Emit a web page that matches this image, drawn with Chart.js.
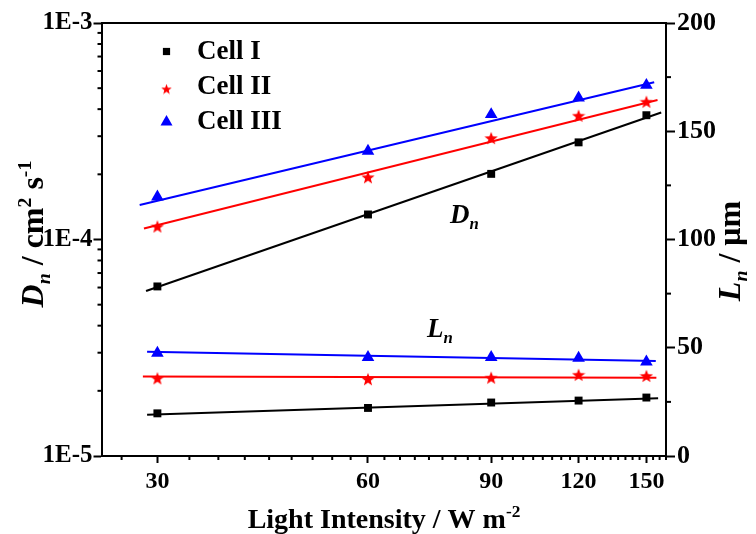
<!DOCTYPE html>
<html>
<head>
<meta charset="utf-8">
<script src="https://cdn.jsdelivr.net/npm/chart.js@4.4.1/dist/chart.umd.min.js"></script>
<style>
  html, body { margin: 0; padding: 0; background: #fff; }
  #c { display: block; }
</style>
</head>
<body>
<canvas id="c" width="756" height="534"></canvas>
<script>
/* ---- data ---- */
const intensity = [30, 60, 90, 120, 150];            // W m-2
const dnCell1 = [6.07e-5, 1.305e-4, 2.01e-4, 2.81e-4, 3.75e-4];
const dnCell2 = [1.149e-4, 1.94e-4, 2.94e-4, 3.73e-4, 4.33e-4];
const dnCell3 = [1.574e-4, 2.56e-4, 3.78e-4, 4.51e-4, 5.16e-4];
const lnCell1 = [19.7, 22.2, 24.7, 25.6, 27.0];       // um
const lnCell2 = [35.9, 35.5, 36.2, 37.5, 37.0];
const lnCell3 = [47.5, 45.6, 45.6, 45.2, 43.5];

// fitted lines: end points as drawn in the figure
const dnFitX1 = [28.9, 157.5], dnFit1 = [5.78e-5, 3.86e-4];
const dnFitX2 = [28.7, 155.6], dnFit2 = [1.125e-4, 4.41e-4];
const dnFitX3 = [28.3, 153.9], dnFit3 = [1.443e-4, 5.32e-4];
const lnFitX1 = [29.0, 155.9], lnFit1 = [19.0, 26.7];
const lnFitX2 = [28.6, 155.0], lnFit2 = [36.7, 36.2];
const lnFitX3 = [29.0, 154.7], lnFit3 = [48.1, 43.9];

const xTicks = [30, 60, 90, 120, 150];
const yLeftTicks = [1e-5, 1e-4, 1e-3];
const yLeftLabels = ["1E-5", "1E-4", "1E-3"];
const yRightTicks = [0, 50, 100, 150, 200];
const cellNames = ["Cell I", "Cell II", "Cell III"];

const X_MIN = 25, X_MAX = 160;
const SERIF = '"Liberation Serif", "Times New Roman", serif';
const COL = ["#000000", "#FF0000", "#0000FF"];

/* ---- minor tick positions (subdivisions of the major ticks) ---- */
const xStep = (xTicks[1] - xTicks[0]) / 9;
const xMinor = [];
for (let v = xTicks[0] - xStep; v >= X_MIN - 1e-9; v -= xStep) xMinor.push(v);
for (let v = xTicks[0] + xStep; v <= X_MAX + 1e-9; v += xStep) {
  if (!xTicks.some(t => Math.abs(t - v) < 1e-6)) xMinor.push(v);
}
const yMinor = [];
for (let i = 0; i < yLeftTicks.length - 1; i++) for (let m = 2; m <= 9; m++) yMinor.push(m * yLeftTicks[i]);
const y2Minor = [];
for (let i = 0; i < yRightTicks.length - 1; i++) y2Minor.push((yRightTicks[i] + yRightTicks[i + 1]) / 2);

/* ---- marker images ---- */
function starCanvas(d, color) {
  const c = document.createElement("canvas");
  c.width = c.height = d;
  const g = c.getContext("2d");
  const R = d / 2, r = R * 0.42, cx = d / 2, cy = d / 2 + R * 0.09;
  g.fillStyle = color;
  g.beginPath();
  for (let i = 0; i < 10; i++) {
    const rad = i % 2 ? r : R, a = -Math.PI / 2 + i * Math.PI / 5;
    g.lineTo(cx + rad * Math.cos(a), cy + rad * Math.sin(a));
  }
  g.closePath(); g.fill();
  return c;
}
const starBig = starCanvas(14, COL[1]);
const starSmall = starCanvas(11, COL[1]);

const pts = (xs, ys) => xs.map((x, i) => ({ x: x, y: ys[i] }));
const markerStyle = [
  { pointStyle: "rect", pointRadius: 5.6 },
  { pointStyle: starBig, pointRadius: 7 },
  { pointStyle: "triangle", pointRadius: 7.3 },
];

function scatterSet(ys, k, axis) {
  return Object.assign({
    data: pts(intensity, ys), yAxisID: axis, showLine: false,
    backgroundColor: COL[k], borderColor: COL[k], pointBorderWidth: 0, order: 0,
  }, markerStyle[k]);
}
function fitSet(xs, ys, k, axis) {
  return {
    data: pts(xs, ys), yAxisID: axis, showLine: true, pointRadius: 0,
    borderColor: COL[k], borderWidth: 2, fill: false, tension: 0, order: 1,
  };
}

/* ---- text with italic / sub / superscript parts ---- */
function richText(ctx, parts, x, y, size, align) {
  const font = (p) => {
    const st = p[1] || "";
    const s = st.includes("sub") || st.includes("sup") ? size * 0.62 : size;
    return (st.includes("i") ? "italic " : "") + "bold " + s + "px " + SERIF;
  };
  const dy = (p) => (p[1] || "").includes("sub") ? size * 0.22 : (p[1] || "").includes("sup") ? -size * 0.38 : 0;
  let w = 0;
  parts.forEach(p => { ctx.font = font(p); w += ctx.measureText(p[0]).width; });
  let cx = align === "center" ? x - w / 2 : x;
  ctx.textBaseline = "alphabetic";
  ctx.textAlign = "left";
  parts.forEach(p => {
    ctx.font = font(p);
    ctx.fillText(p[0], cx, y + dy(p));
    cx += ctx.measureText(p[0]).width;
  });
}

function seg(ctx, x1, y1, x2, y2) { ctx.beginPath(); ctx.moveTo(x1, y1); ctx.lineTo(x2, y2); ctx.stroke(); }

const decor = {
  id: "decor",
  afterDraw(chart) {
    const { ctx, chartArea: a, scales } = chart;
    ctx.save();
    ctx.strokeStyle = "#000"; ctx.fillStyle = "#000"; ctx.lineWidth = 2;
    seg(ctx, a.left - 1, a.top, a.right + 1, a.top);

    // minor ticks
    xMinor.forEach(v => { const p = scales.x.getPixelForValue(v); seg(ctx, p, a.bottom, p, a.bottom + 4); });
    yMinor.forEach(v => { const p = scales.y.getPixelForValue(v); seg(ctx, a.left - 4.5, p, a.left, p); });
    y2Minor.forEach(v => { const p = scales.y2.getPixelForValue(v); seg(ctx, a.right, p, a.right + 5, p); });

    // axis titles
    richText(ctx, [["Light Intensity / W m"], ["-2", "sup"]], (a.left + a.right) / 2, 528, 28, "center");
    ctx.save();
    ctx.translate(43, 234); ctx.rotate(-Math.PI / 2);
    richText(ctx, [["D", "i"], ["n", "isub"], [" / cm"], ["2", "sup"], [" s"], ["-1", "sup"]], 0, 0, 32, "center");
    ctx.restore();
    ctx.save();
    ctx.translate(740, 251); ctx.rotate(-Math.PI / 2);
    richText(ctx, [["L", "i"], ["n", "isub"], [" / \u03bcm"]], 0, 0, 32, "center");
    ctx.restore();

    // curve annotations
    richText(ctx, [["D", "i"], ["n", "isub"]], 450, 223, 27, "left");
    richText(ctx, [["L", "i"], ["n", "isub"]], 427, 337, 27, "left");

    // legend
    const lx = 166.5, ly = [51.5, 89, 121], tb = [59, 94, 129];
    ctx.fillStyle = COL[0];
    ctx.fillRect(lx - 3.6, ly[0] - 3.6, 7.2, 7.2);
    ctx.drawImage(starSmall, lx - 5.5, ly[1] - 5.5);
    ctx.fillStyle = COL[2];
    ctx.beginPath();
    ctx.moveTo(lx, ly[2] - 6); ctx.lineTo(lx + 6, ly[2] + 4.5); ctx.lineTo(lx - 6, ly[2] + 4.5);
    ctx.closePath(); ctx.fill();
    ctx.fillStyle = "#000";
    cellNames.forEach((t, i) => richText(ctx, [[t]], 197, tb[i], 27, "left"));
    ctx.restore();
  },
};

const tickFont = (s) => ({ family: SERIF, size: s, weight: "bold" });
const gridOpts = (len) => ({ drawOnChartArea: false, tickLength: len, tickWidth: 2, tickColor: "#000" });
const border = { display: true, color: "#000", width: 2 };

new Chart(document.getElementById("c").getContext("2d"), {
  type: "scatter",
  data: {
    datasets: [
      fitSet(dnFitX1, dnFit1, 0, "y"), fitSet(dnFitX2, dnFit2, 1, "y"), fitSet(dnFitX3, dnFit3, 2, "y"),
      fitSet(lnFitX1, lnFit1, 0, "y2"), fitSet(lnFitX2, lnFit2, 1, "y2"), fitSet(lnFitX3, lnFit3, 2, "y2"),
      scatterSet(dnCell1, 0, "y"), scatterSet(dnCell2, 1, "y"), scatterSet(dnCell3, 2, "y"),
      scatterSet(lnCell1, 0, "y2"), scatterSet(lnCell2, 1, "y2"), scatterSet(lnCell3, 2, "y2"),
    ],
  },
  options: {
    responsive: false, animation: false, devicePixelRatio: 1,
    layout: { padding: { top: 23, left: 0, right: 0, bottom: 0 } },
    plugins: { legend: { display: false }, tooltip: { enabled: false } },
    scales: {
      x: {
        type: "logarithmic", position: "bottom", min: X_MIN, max: X_MAX,
        afterBuildTicks: s => { s.ticks = xTicks.map(v => ({ value: v })); },
        afterFit: s => { s.height = 78; },
        ticks: { autoSkip: false, maxRotation: 0, padding: 4, color: "#000", font: tickFont(24), callback: v => String(v) },
        grid: gridOpts(7), border: border,
      },
      y: {
        type: "logarithmic", position: "left", min: 1e-5, max: 1e-3,
        afterBuildTicks: s => { s.ticks = yLeftTicks.map(v => ({ value: v })); },
        afterFit: s => { s.width = 102; },
        ticks: { autoSkip: false, padding: 1, color: "#000", font: tickFont(25), callback: (v, i) => yLeftLabels[i] },
        grid: gridOpts(8.5), border: border,
      },
      y2: {
        type: "linear", position: "right", min: 0, max: 200,
        afterBuildTicks: s => { s.ticks = yRightTicks.map(v => ({ value: v })); },
        afterFit: s => { s.width = 90; },
        ticks: { autoSkip: false, padding: 2, color: "#000", font: tickFont(26), callback: v => String(v) },
        grid: gridOpts(9), border: border,
      },
    },
  },
  plugins: [decor],
});
</script>
</body>
</html>
